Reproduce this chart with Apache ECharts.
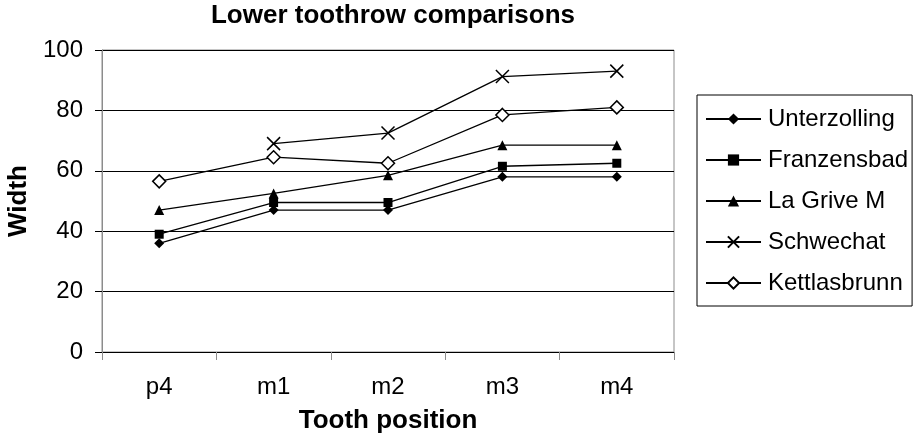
<!DOCTYPE html>
<html>
<head>
<meta charset="utf-8">
<script src="https://cdn.jsdelivr.net/npm/echarts@6/dist/echarts.min.js"></script>
<style>html,body{margin:0;padding:0;background:#fff}#c{width:915px;height:433px}</style>
</head>
<body>
<div id="c"></div>
<script>
const categories = ['p4', 'm1', 'm2', 'm3', 'm4'];
const unterzolling = [36, 47, 47, 58, 58];
const franzensbad = [39, 49.5, 49.5, 61.5, 62.5];
const laGriveM = [47, 52.5, 58.5, 68.5, 68.5];
const schwechat = [null, 69, 72.5, 91.2, 93];
const kettlasbrunn = [56.5, 64.5, 62.5, 78.5, 81];
const yTicks = [0, 20, 40, 60, 80, 100];

const FONT = 'Liberation Sans, Arial, sans-serif';
const chart = echarts.init(document.getElementById('c'), null, {renderer: 'canvas'});

function mk(name, data, symbol, size, filled) {
  return {
    name: name, type: 'line', data: data, symbol: symbol, symbolSize: size,
    connectNulls: false, animation: false,
    lineStyle: {color: '#000', width: 1.3},
    itemStyle: filled ? {color: '#000', borderColor: '#000', borderWidth: 0}
                      : {color: filled === null ? 'rgba(0,0,0,0)' : '#fff', borderColor: '#000', borderWidth: 1.5},
    emphasis: {disabled: true}
  };
}

chart.setOption({
  backgroundColor: '#fff',
  animation: false,
  textStyle: {fontFamily: FONT},
  title: {
    text: 'Lower toothrow comparisons',
    left: 388, top: -2, textAlign: 'center',
    textStyle: {fontFamily: FONT, fontWeight: 'bold', fontSize: 26, color: '#000'}
  },
  grid: {left: 102, right: 241, top: 50, bottom: 81, show: true, borderColor: '#8c8c8c', borderWidth: 1,
    backgroundColor: 'transparent', containLabel: false, outerBoundsMode: 'none'},
  legend: {
    orient: 'vertical', left: 697, top: 95,
    padding: [12, 4, 11, 8],
    borderColor: '#000', borderWidth: 1,
    itemWidth: 55, itemHeight: 14, itemGap: 17,
    textStyle: {fontFamily: FONT, fontSize: 24, color: '#000', padding: [0, 0, 0, 2]},
    data: ['Unterzolling', 'Franzensbad', 'La Grive M', 'Schwechat', 'Kettlasbrunn']
  },
  xAxis: {
    type: 'category', data: categories, boundaryGap: true,
    name: 'Tooth position', nameLocation: 'middle', nameGap: 56,
    nameTextStyle: {fontFamily: FONT, fontWeight: 'bold', fontSize: 26, color: '#000'},
    axisLine: {show: true, lineStyle: {color: '#000', width: 1}},
    axisTick: {show: true, length: 8, interval: 0, lineStyle: {color: '#8c8c8c'}},
    axisLabel: {fontFamily: FONT, fontSize: 24, color: '#000', margin: 23, interval: 0}
  },
  yAxis: {
    type: 'value', min: 0, max: 100, interval: 20,
    name: 'Width', nameLocation: 'middle', nameGap: 67, nameRotate: 90,
    nameTextStyle: {fontFamily: FONT, fontWeight: 'bold', fontSize: 26, color: '#000'},
    axisLine: {show: true, lineStyle: {color: '#8c8c8c', width: 1}},
    axisTick: {show: true, length: 7, lineStyle: {color: '#000'}},
    axisLabel: {fontFamily: FONT, fontSize: 24, color: '#000', margin: 19,
      formatter: function (v) { return yTicks.indexOf(v) >= 0 ? String(v) : ''; }},
    splitLine: {show: true, lineStyle: {color: '#000', width: 1}}
  },
  series: [
    mk('Unterzolling', unterzolling, 'diamond', 10, true),
    mk('Franzensbad', franzensbad, 'rect', 9, true),
    mk('La Grive M', laGriveM, 'triangle', 10, true),
    mk('Schwechat', schwechat, 'path://M0,0L10,10M10,0L0,10', 13, null),
    mk('Kettlasbrunn', kettlasbrunn, 'diamond', 13, false)
  ]
});
</script>
</body>
</html>
